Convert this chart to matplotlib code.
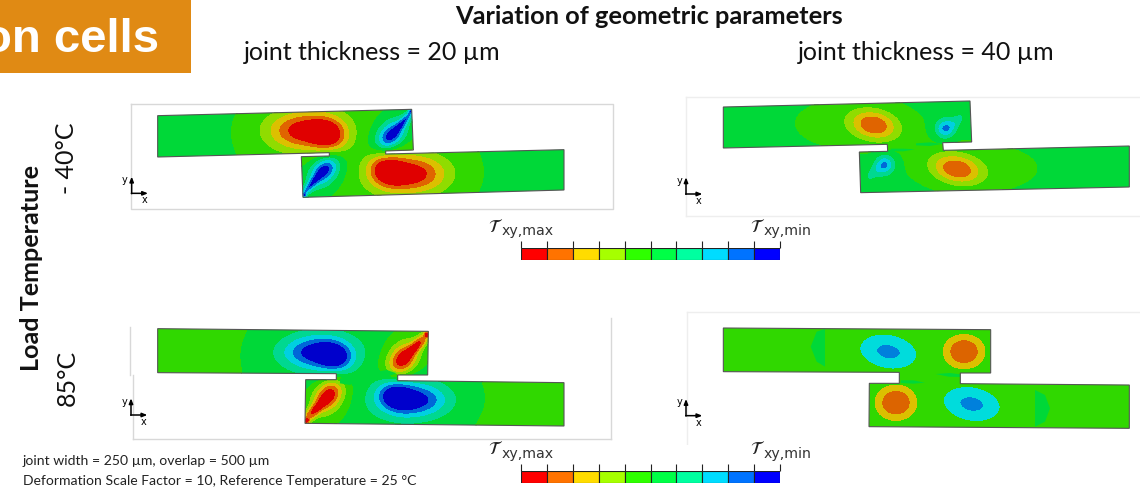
import numpy as np
import matplotlib
matplotlib.use("Agg")
import matplotlib.pyplot as plt
from matplotlib.patches import Polygon, Rectangle

W, H = 1140, 492

# outlines of the joined strips (3x crop units, y downwards)
outline_a = [(113,77),(875,58),(880,180),(797,183),(797,192),(1332,179),(1332,300),(549,322),(544,200),(628,198),(628,188),(113,201)]
outline_b = [(160,51),(900,33),(905,156),(818,158),(820,181),(1378,168),(1378,291),(572,308),(568,186),(653,184),(652,163),(160,174)]
outline_c = [(113,41),(925,49),(923,180),(833,180),(833,197),(1332,203),(1332,333),(555,325),(557,194),(649,194),(649,176),(113,173)]
outline_d = [(160,69),(962,74),(962,204),(871,204),(871,236),(1378,240),(1378,370),(597,365),(598,235),(688,235),(688,202),(160,200)]

# stress hot spots: centre x, centre y, spread along, spread across, angle, height
peaks_a = [
    (712,188,300,400,0,1.0),
    (550,122,72,38,0,4.4),(625,135,38,32,20,3.4),
    (875,252,72,38,0,4.4),(800,240,38,32,20,3.4),
    (812,138,34,24,-45,-3.8),(855,90,36,10,-50,-3.2),(815,120,60,42,-45,-1.3),(872,63,6,5,0,-3.0),
    (613,240,34,24,-45,-3.8),(570,288,36,10,-50,-3.2),(610,258,60,42,-45,-1.3),(553,316,6,5,0,-3.0),
]
peaks_b = [
    (562,100,170,70,0,0.9),(915,235,170,65,0,0.9),
    (612,105,47,28,12,3.6),(860,237,50,28,12,3.6),
    (825,116,22,22,0,-3.2),(862,92,24,14,-45,-1.0),
    (645,224,22,22,0,-3.2),(608,250,24,14,-45,-1.0),
]
peaks_c = [
    (722,187,300,400,0,-1.0),
    (590,112,72,37,0,-4.6),(645,128,36,30,20,-3.2),
    (880,255,72,37,0,-4.6),(825,240,36,30,20,-3.2),
    (848,135,34,24,-50,3.8),(897,85,36,10,-45,3.2),(850,115,60,42,-45,1.3),(920,58,5,5,0,2.5),
    (625,240,34,24,-50,3.8),(578,292,36,10,-45,3.2),(625,262,60,42,-45,1.3),(560,318,5,5,0,2.5),
]
peaks_d = [
    (655,140,55,33,10,-3.5),(905,297,55,33,10,-3.5),
    (882,140,39,32,0,3.5),(678,293,39,33,0,3.5),
]

# thin streaks and crescents that stand apart from the hot spots
extra_a = []
extra_b = [[(662,176),(700,176),(735,178),(700,184),(662,184)],[(738,160),(780,157),(815,162),(780,168),(738,166)]]
extra_c = [[(660,190),(690,188),(712,200),(690,210),(660,205)],[(770,170),(800,165),(830,175),(800,185),(770,180)]]
extra_d = [
    [(465,72),(440,80),(422,125),(440,170),(465,185)],
    [(1095,255),(1125,270),(1140,310),(1125,350),(1095,365)],
    [(692,226),(730,226),(765,233),(730,236),(692,234)],
    [(797,207),(840,204),(870,208),(870,216),(835,215)],
]

base_levels = [-0.5, -0.5, 0.5, 0.5]

band_edges = [-99, -4, -3, -2, -1, 0, 1, 2, 3, 4, 99]
band_colors = ["#0000cc", "#0068d8", "#00d0e0", "#00d890", "#00d838", "#30d800", "#90dc00", "#dcc000", "#e06400", "#e00000"]
band_edges_d = [-99, -2.8, -1, 1, 2.15, 99]
band_colors_d = ["#0080dc", "#00dcdc", "#30d800", "#dcc000", "#dc6400"]

legend_colors = ["#ff0000", "#ff7300", "#ffdc00", "#a6ff00", "#2eff00", "#00ff46", "#00ffa0", "#00dcff", "#0073ff", "#0000ff"]
legend_labels = ["xy,max", "xy,min"]

title = "Variation of geometric parameters"
col_labels = ["joint thickness = 20 µm", "joint thickness = 40 µm"]
row_labels = ["- 40°C", "85°C"]
notes = ["joint width = 250 µm, overlap = 500 µm", "Deformation Scale Factor = 10, Reference Temperature = 25 °C"]

plt.rcParams["font.family"] = ["Lato", "DejaVu Sans"]
fig = plt.figure(figsize=(W / 100, H / 100), dpi=100)
bg = fig.add_axes([0, 0, 1, 1])
bg.set_xlim(0, W)
bg.set_ylim(H, 0)
bg.axis("off")


def field(peaks, base, xx, yy):
    z = np.full(xx.shape, float(base))
    for cx, cy, sa, sb, ang, amp in peaks:
        t = np.radians(ang)
        u = (xx - cx) * np.cos(t) + (yy - cy) * np.sin(t)
        v = -(xx - cx) * np.sin(t) + (yy - cy) * np.cos(t)
        z += amp * np.exp(-0.5 * (u**2 / sa**2 + v**2 / sb**2))
    return z


def panel(box, outline, peaks, base, extra, edges, colors, triad, frame):
    x0, y0, w, h = box
    ax = fig.add_axes([x0 / W, 1 - (y0 + h) / H, w / W, h / H])
    ax.set_xlim(0, w * 3)
    ax.set_ylim(h * 3, 0)
    ax.axis("off")
    ax.patch.set_alpha(0)
    for xs, ys in frame:
        ax.plot(xs, ys, color="#d8d8d8" if x0 < 600 else "#eeeeee", lw=1, zorder=1)
    xx, yy = np.meshgrid(np.linspace(0, w * 3, 750), np.linspace(0, h * 3, 220))
    clip = Polygon(outline, closed=True, fc="none", ec="#555555", lw=0.8, zorder=5)
    ax.add_patch(clip)
    cs = ax.contourf(xx, yy, field(peaks, base, xx, yy), levels=edges, colors=colors, zorder=2)
    cs.set_edgecolor("face")
    cs.set_linewidth(0.4)
    cs.set_clip_path(clip)
    for pts in extra:
        p = Polygon(pts, closed=True, fc="#00d838", ec="none", zorder=3)
        ax.add_patch(p)
        p.set_clip_path(clip)
    ox, oy = triad
    ax.annotate("", xy=(ox, oy - 50), xytext=(ox, oy + 1), arrowprops=dict(arrowstyle="-|>,head_width=0.12,head_length=0.3", color="k", lw=1.1, shrinkA=0, shrinkB=0))
    ax.annotate("", xy=(ox + 49, oy), xytext=(ox - 1, oy), arrowprops=dict(arrowstyle="-|>,head_width=0.12,head_length=0.3", color="k", lw=1.1, shrinkA=0, shrinkB=0))
    ax.text(ox - 20, oy - 40, "y", fontsize=7, family="DejaVu Sans", ha="center", va="center")
    ax.text(ox + 39, oy + 21, "x", fontsize=7, family="DejaVu Sans", ha="center", va="center")


panel((120, 90, 500, 130), outline_a, peaks_a, base_levels[0], extra_a, band_edges, band_colors, (35, 310),
      [([32, 1480, 1480, 32, 32], [42, 42, 358, 358, 42])])
panel((670, 90, 470, 130), outline_b, peaks_b, base_levels[1], extra_b, band_edges, band_colors, (48, 312),
      [([48, 1410], [20, 20]), ([48, 48], [20, 378]), ([48, 1410], [378, 378])])
panel((120, 315, 500, 130), outline_c, peaks_c, base_levels[2], extra_c, band_edges, band_colors, (33, 300),
      [([30, 30], [35, 180]), ([40, 40], [180, 372]), ([40, 1472], [372, 372]), ([1472, 1472], [10, 372])])
panel((670, 305, 470, 140), outline_d, peaks_d, 0.0, extra_d, band_edges_d, band_colors_d, (48, 332),
      [([52, 1410], [22, 22]), ([52, 52], [22, 420])])

# banner, partly cut by the slide edge
bg.add_patch(Rectangle((0, 0), 191, 73, fc="#e08a14", ec="none"))
bg.text(159, 52, "on cells", color="white", fontsize=34, fontweight="bold", family="Liberation Sans", ha="right", va="baseline", clip_on=True)

bg.text(649, 17, title, fontsize=18.3, fontweight="bold", ha="center", va="center", color="#111111")
bg.text(372, 53, col_labels[0], fontsize=18, ha="center", va="center", color="#111111")
bg.text(926, 53, col_labels[1], fontsize=18, ha="center", va="center", color="#111111")
bg.text(32, 268, "Load Temperature", fontsize=18.1, fontweight="bold", rotation=90, ha="center", va="center", color="#111111")
bg.text(67, 158, row_labels[0], fontsize=18, rotation=90, ha="center", va="center", color="#111111")
bg.text(67, 378, row_labels[1], fontsize=18, rotation=90, ha="center", va="center", color="#111111")
bg.text(23, 461, notes[0], fontsize=10.1, ha="left", va="center", color="#222222")
bg.text(23, 481, notes[1], fontsize=10.1, ha="left", va="center", color="#222222")

# two colour legends
for top in [248, 471]:
    lax = fig.add_axes([521 / W, 1 - (top + 12) / H, 259 / W, 12 / H])
    lax.bar(np.arange(len(legend_colors)), 1, width=1, align="edge", color=legend_colors, edgecolor="#222222", lw=0.8)
    lax.set_xlim(0, len(legend_colors))
    lax.set_ylim(0, 1)
    lax.axis("off")
    bg.vlines(np.linspace(521, 780, 11), top - 7, top, color="#222222", lw=0.8)
    for x, lab in zip([490, 752], legend_labels):
        bg.text(x + 6, top - 22, r"$\mathcal{T}$", fontsize=13, ha="center", va="center", color="#222222", math_fontfamily="dejavusans")
        bg.text(x + 12, top - 17, lab, fontsize=10.2, family="DejaVu Sans", ha="left", va="center", color="#333333")

fig.savefig("out.png", dpi=100)
